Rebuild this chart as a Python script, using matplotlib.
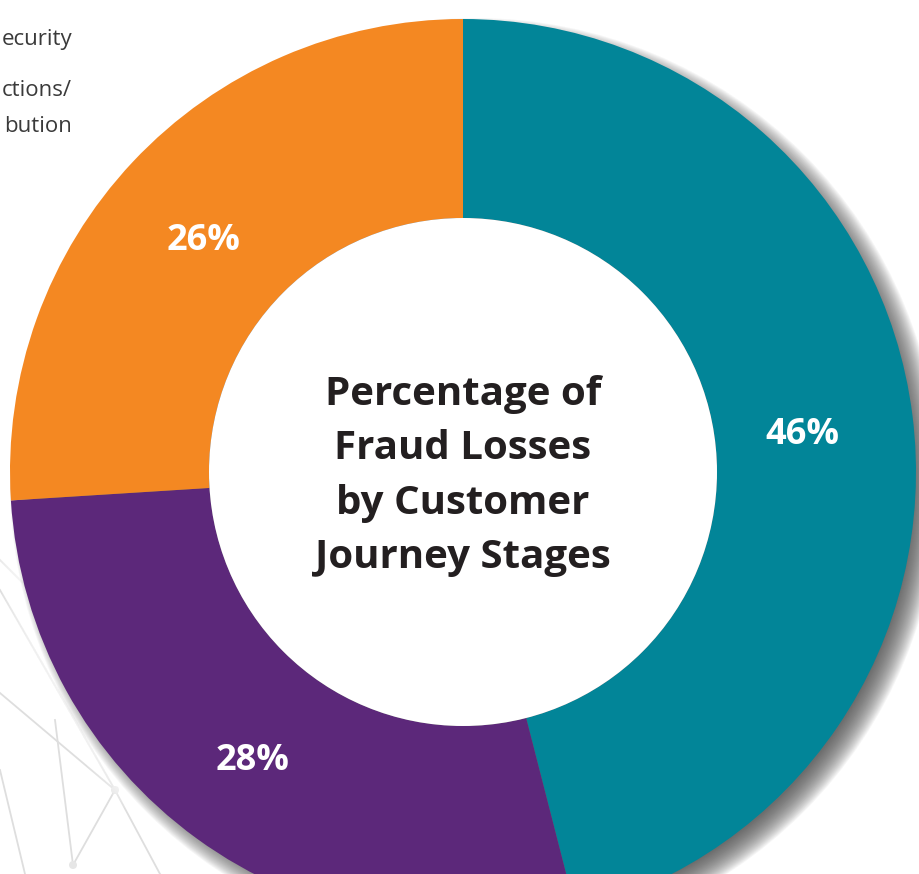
import matplotlib
matplotlib.use("Agg")
import matplotlib.pyplot as plt
from matplotlib.patches import Circle
import numpy as np

# ---- data ----
stages = ["Stage A", "Stage B", "Stage C"]
shares = [46, 28, 26]
colors = ["#028598", "#5C287A", "#F48822"]
center_title = "Percentage of\nFraud Losses\nby Customer\nJourney Stages"
legend_fragments = ["ecurity", "ctions/", "bution"]

W, H = 920, 874
fig = plt.figure(figsize=(W / 100, H / 100), dpi=100)
ax = fig.add_axes([0, 0, 1, 1])
ax.set_xlim(0, W)
ax.set_ylim(0, H)
ax.set_aspect("equal")
ax.axis("off")

cx, cy = 463, H - 472
R, r_in = 453, 254

# faint background network lines (decoration)
segs = [((0, 590), (115, 790)), ((0, 693), (115, 790)), ((0, 770), (25, 874)),
        ((115, 790), (73, 865)), ((55, 720), (73, 865)), ((115, 790), (160, 874)),
        ((0, 560), (40, 600))]
for (x0, y0), (x1, y1) in segs:
    ax.plot([x0, x1], [H - y0, H - y1], color="#dedede", lw=1.3, zorder=0)
for (x, y) in [(115, 790), (73, 865)]:
    ax.add_patch(Circle((x, H - y), 4, color="#e6e6e6", lw=0, zorder=0))

# white glow around donut (covers background lines)
for k in range(12):
    ax.add_patch(Circle((cx, cy), R + 24 - 2 * k, color="white", alpha=0.12, lw=0, zorder=0.5))

# soft shadow
for k in range(28):
    ax.add_patch(Circle((cx + 12, cy - 11), R + 12 - k, color="#4a4a4a", alpha=0.05, lw=0, zorder=1))

wedges, texts, autotexts = ax.pie(
    shares, colors=colors, startangle=90, counterclock=False,
    center=(cx, cy), radius=R, autopct="%d%%", pctdistance=348 / R,
    wedgeprops=dict(width=R - r_in, linewidth=0),
    textprops=dict(color="white", fontsize=26, fontweight="bold", family="Open Sans"),
)
for w in wedges:
    w.set_zorder(2)
for t in autotexts:
    t.set_zorder(3)
    x, y = t.get_position()
    t.set_position((x - 6, y - 7))
ax.add_patch(Circle((cx, cy), r_in, color="white", lw=0, zorder=2))

ax.set_xlim(0, W)
ax.set_ylim(0, H)

ax.text(cx, cy - 4, center_title, ha="center", va="center", fontsize=29, fontweight="bold",
        family="Open Sans", color="#231f20", linespacing=1.52, zorder=4)

for txt, y in zip(legend_fragments, [40, 90, 126]):
    ax.text(72, H - y, txt, ha="right", va="center", fontsize=16,
            family="Open Sans", color="#3a3a3a")

fig.savefig("out.png", dpi=100)
